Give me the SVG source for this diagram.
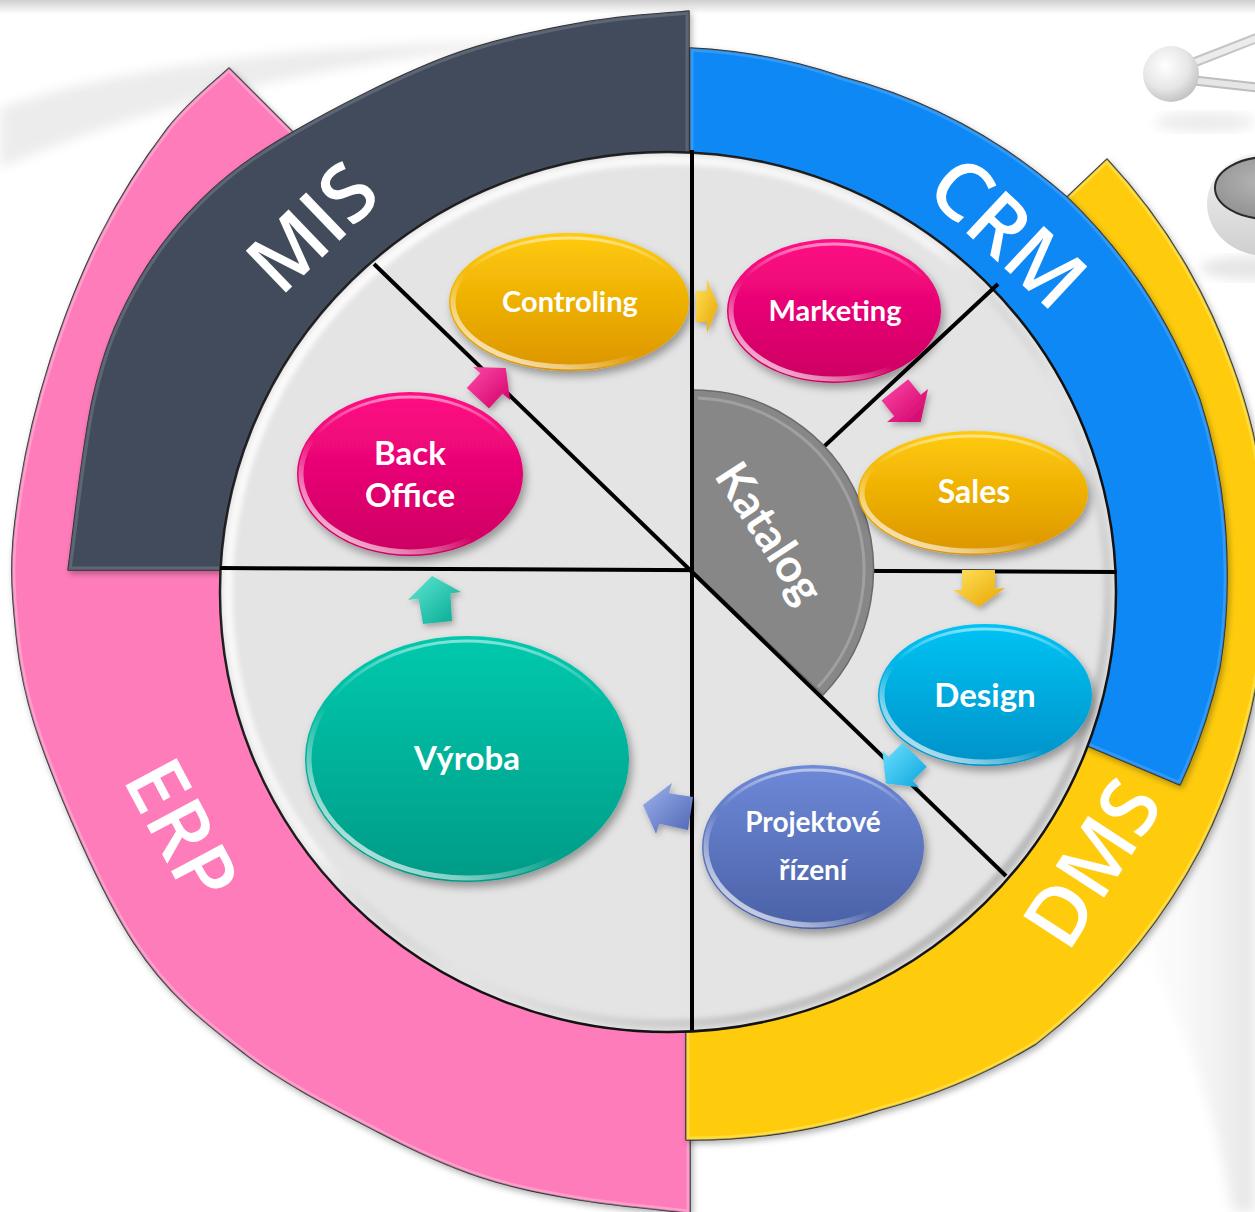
<svg xmlns="http://www.w3.org/2000/svg" width="1255" height="1212" viewBox="0 0 1255 1212">
<defs>
<style>
.band{stroke:#2e2e2e;stroke-width:1.5;stroke-linejoin:round}
.bevel{fill:none;stroke-width:7;stroke-opacity:0.45}
.div{stroke:#000;stroke-width:4;fill:none}
.big{font-family:"Open Sans","DejaVu Sans",sans-serif;font-weight:600;font-size:81px;fill:#fff;text-anchor:middle}
.lbl{font-family:Lato,"Liberation Sans",sans-serif;font-weight:700;fill:#fff;text-anchor:middle}
.rim{fill:none;stroke:url(#gRim);stroke-width:5}
.top{fill:none;stroke:url(#gTop);stroke-width:3}
.arr{stroke:none}
</style>
<path id="pErp" d="M229,68 C218.7,78.2 188.5,101 167,129 C145.5,157 119.5,197.3 100,236 C80.5,274.7 63.3,319.3 50,361 C36.7,402.7 26.2,446.2 20,486 C13.8,525.8 9.7,557.5 13,600 C16.3,642.5 19.8,683.8 40,741 C60.2,798.2 99.8,890.8 134,943 C168.2,995.2 204,1022.3 245,1054 C286,1085.7 340.8,1112.5 380,1133 C419.2,1153.5 446.7,1165.8 480,1177 C513.3,1188.2 545,1194 580,1200 C615,1206 671.7,1210.8 690,1213 L690,570 L293,132 Z"/>
<path id="pDms" d="M1107,159 A600,600 0 0,1 1187,267 A600,600 0 0,1 1233,367 A600,600 0 0,1 1253,433 A600,600 0 0,1 1266,600 A600,600 0 0,1 1245,733 A600,600 0 0,1 1200,850 A600,600 0 0,1 1036,1044 A600,600 0 0,1 880,1110 A600,600 0 0,1 686,1140 L686,570 L1067,197 Z"/>
<path id="pMis" d="M68,570 C72.2,541.2 82.2,443.7 93,397 C103.8,350.3 115.2,322.7 133,290 C150.8,257.3 173.3,227.3 200,201 C226.7,174.7 252,156 293,132 C334,108 398.2,75.2 446,57 C493.8,38.8 539.5,30.7 580,23 C620.5,15.3 670.8,13 689,11 L689,570 Z"/>
<path id="pCrm" d="M690,48 A555,555 0 0,1 843,77 A555,555 0 0,1 1067,197 A555,555 0 0,1 1140,283 A555,555 0 0,1 1200,400 A555,555 0 0,1 1227,567 A555,555 0 0,1 1220,667 A555,555 0 0,1 1180,785 L1090,747 L690,570 Z"/>
<clipPath id="cErp"><use href="#pErp"/></clipPath>
<clipPath id="cDms"><use href="#pDms"/></clipPath>
<clipPath id="cMis"><use href="#pMis"/></clipPath>
<clipPath id="cCrm"><use href="#pCrm"/></clipPath>
<linearGradient id="gTopShade" x1="0" y1="0" x2="0" y2="1"><stop offset="0" stop-color="#cfcfcf"/><stop offset="1" stop-color="#fff"/></linearGradient>
<linearGradient id="gGold" x1="0" y1="0" x2="0" y2="1"><stop offset="0" stop-color="#ffcb0a"/><stop offset="1" stop-color="#dc9500"/></linearGradient>
<linearGradient id="gMag" x1="0" y1="0" x2="0" y2="1"><stop offset="0" stop-color="#ff0a84"/><stop offset="1" stop-color="#cc0062"/></linearGradient>
<linearGradient id="gCyan" x1="0" y1="0" x2="0" y2="1"><stop offset="0" stop-color="#05c3f4"/><stop offset="1" stop-color="#0092c8"/></linearGradient>
<linearGradient id="gBlue" x1="0" y1="0" x2="0" y2="1"><stop offset="0" stop-color="#6e89d8"/><stop offset="1" stop-color="#4a61a6"/></linearGradient>
<linearGradient id="gTeal" x1="0" y1="0" x2="0" y2="1"><stop offset="0" stop-color="#00c9ad"/><stop offset="1" stop-color="#009b87"/></linearGradient>
<linearGradient id="gRim" x1="0" y1="1" x2="0.7" y2="0.2"><stop offset="0" stop-color="#fff" stop-opacity="0.95"/><stop offset="0.3" stop-color="#fff" stop-opacity="0.5"/><stop offset="0.55" stop-color="#fff" stop-opacity="0"/></linearGradient>
<linearGradient id="gTop" x1="0" y1="0" x2="0" y2="1"><stop offset="0" stop-color="#fff" stop-opacity="0.5"/><stop offset="0.25" stop-color="#fff" stop-opacity="0"/></linearGradient>
<linearGradient id="gDiskRim" x1="0" y1="0" x2="1" y2="1"><stop offset="0" stop-color="#fff" stop-opacity="1"/><stop offset="0.45" stop-color="#fff" stop-opacity="0.6"/><stop offset="0.6" stop-color="#888" stop-opacity="0"/><stop offset="1" stop-color="#666" stop-opacity="0.6"/></linearGradient>
<linearGradient id="aGold" x1="0" y1="0" x2="1" y2="1"><stop offset="0" stop-color="#ffe25a"/><stop offset="1" stop-color="#e8a400"/></linearGradient>
<linearGradient id="aMag" x1="0" y1="0" x2="1" y2="1"><stop offset="0" stop-color="#ff4aa8"/><stop offset="1" stop-color="#d0006a"/></linearGradient>
<linearGradient id="aCyan" x1="0" y1="0" x2="1" y2="1"><stop offset="0" stop-color="#6fe0ff"/><stop offset="1" stop-color="#0aa6dc"/></linearGradient>
<linearGradient id="aBlue" x1="0" y1="0" x2="1" y2="1"><stop offset="0" stop-color="#9fb3ee"/><stop offset="1" stop-color="#4d66b4"/></linearGradient>
<linearGradient id="aTeal" x1="0" y1="0" x2="1" y2="1"><stop offset="0" stop-color="#5ee8d4"/><stop offset="1" stop-color="#05a892"/></linearGradient>
<radialGradient id="gSphere" cx="0.4" cy="0.35" r="0.7"><stop offset="0" stop-color="#fff"/><stop offset="0.6" stop-color="#e6e6e6"/><stop offset="1" stop-color="#bdbdbd"/></radialGradient>
<radialGradient id="gFace" cx="0.45" cy="0.4" r="0.7"><stop offset="0" stop-color="#b5b5b5"/><stop offset="1" stop-color="#8a8a8a"/></radialGradient>
<linearGradient id="gBody" x1="0" y1="0" x2="0" y2="1"><stop offset="0" stop-color="#f4f4f4"/><stop offset="1" stop-color="#cfcfcf"/></linearGradient>
<linearGradient id="gSwoosh" x1="0" y1="0" x2="1" y2="0"><stop offset="0" stop-color="#fff" stop-opacity="0"/><stop offset="1" stop-color="#e6e6e6"/></linearGradient>
<filter id="sh" x="-20%" y="-20%" width="145%" height="155%"><feDropShadow dx="3" dy="5" stdDeviation="4" flood-color="#000" flood-opacity="0.35"/></filter>
<filter id="bsh" x="-10%" y="-10%" width="120%" height="120%"><feDropShadow dx="2" dy="3" stdDeviation="3" flood-color="#000" flood-opacity="0.3"/></filter>
<filter id="blur6"><feGaussianBlur stdDeviation="6"/></filter>
<filter id="blur2"><feGaussianBlur stdDeviation="2.5"/></filter>
</defs>

<g id="background">
<rect width="1255" height="1212" fill="#fff"/>
<rect width="1255" height="14" fill="url(#gTopShade)"/>
<path d="M0,108 C120,66 320,40 560,42 C340,58 160,100 0,168 Z" fill="#ececec" filter="url(#blur6)"/>
<path d="M1110,900 C1170,980 1210,1080 1232,1212 L1255,1212 L1255,680 Z" fill="url(#gSwoosh)" filter="url(#blur6)"/>
<ellipse cx="1205" cy="122" rx="50" ry="10" fill="#ececec" filter="url(#blur6)"/>
<line x1="1185" y1="66" x2="1262" y2="36" stroke="#c4c4c4" stroke-width="10"/>
<line x1="1185" y1="66" x2="1262" y2="36" stroke="#ececec" stroke-width="6"/>
<line x1="1190" y1="80" x2="1262" y2="88" stroke="#bdbdbd" stroke-width="10"/>
<line x1="1190" y1="80" x2="1262" y2="88" stroke="#e6e6e6" stroke-width="6"/>
<circle cx="1171" cy="74" r="28" fill="url(#gSphere)"/>
<ellipse cx="1255" cy="268" rx="55" ry="12" fill="#e6e6e6" filter="url(#blur6)"/>
<ellipse cx="1266" cy="204" rx="59" ry="52" fill="url(#gBody)"/>
<ellipse cx="1268" cy="188" rx="53" ry="31" fill="url(#gFace)" stroke="#2a2a2a" stroke-width="2"/>
</g>

<g id="erp">
<use href="#pErp" class="band" fill="#ff7cbb" filter="url(#bsh)"/>
<use href="#pErp" class="bevel" stroke="#ffc4e2" clip-path="url(#cErp)"/>
</g>
<g id="dms">
<use href="#pDms" class="band" fill="#ffcc08" filter="url(#bsh)"/>
<use href="#pDms" class="bevel" stroke="#fff07a" clip-path="url(#cDms)"/>
</g>
<g id="mis">
<use href="#pMis" class="band" fill="#434c5c" filter="url(#bsh)"/>
<use href="#pMis" class="bevel" stroke="#7d8798" clip-path="url(#cMis)"/>
</g>
<g id="crm">
<use href="#pCrm" class="band" fill="#0a88f5" filter="url(#bsh)"/>
<use href="#pCrm" class="bevel" stroke="#5cb2ff" clip-path="url(#cCrm)"/>
</g>

<g id="disk">
<ellipse cx="668" cy="592" rx="448" ry="440" fill="#e4e4e4" stroke="#111" stroke-width="2.5"/>
<ellipse cx="668" cy="592" rx="440" ry="432" fill="none" stroke="url(#gDiskRim)" stroke-width="9" filter="url(#blur2)"/>
</g>

<g id="dividers-back">
<line class="div" x1="220" y1="568" x2="1117" y2="572"/>
<line class="div" x1="692" y1="570" x2="998" y2="284"/>
</g>

<g id="katalog">
<path d="M692,570 L692,390 A180,180 0 0,1 823,695 Z" fill="#878787" stroke="#6a6a6a" stroke-width="1.5"/>
<path d="M698,398 A172,172 0 0,1 818,687" fill="none" stroke="#a0a0a0" stroke-width="3"/>
<text class="lbl" font-size="46" transform="translate(768,534) rotate(57)" x="0" y="14">Katalog</text>
</g>

<g id="dividers-front">
<line class="div" x1="692" y1="150" x2="692" y2="1030"/>
<line class="div" x1="374" y1="264" x2="1006" y2="876"/>
</g>

<g id="mis-label"><text class="big" transform="translate(312,227) rotate(-44)" x="0" y="29">MIS</text></g>
<g id="crm-label"><text class="big" transform="translate(1008,232) rotate(43)" x="0" y="29">CRM</text></g>
<g id="erp-label"><text class="big" transform="translate(182,830) rotate(62)" x="0" y="29">ERP</text></g>
<g id="dms-label"><text class="big" transform="translate(1092,863) rotate(-57)" x="0" y="29">DMS</text></g>

<g id="controling">
<ellipse cx="569" cy="302" rx="120" ry="69" fill="url(#gGold)" filter="url(#sh)"/>
<ellipse class="rim" cx="569" cy="302" rx="116" ry="65"/>
<ellipse class="top" cx="569" cy="302" rx="115" ry="64"/>
<text class="lbl" font-size="29" x="570" y="312">Controling</text>
</g>
<g id="marketing">
<ellipse cx="834" cy="311" rx="107" ry="72" fill="url(#gMag)" filter="url(#sh)"/>
<ellipse class="rim" cx="834" cy="311" rx="103" ry="68"/>
<ellipse class="top" cx="834" cy="311" rx="102" ry="67"/>
<text class="lbl" font-size="29" x="835" y="321">Marketing</text>
</g>
<g id="back-office">
<ellipse cx="410" cy="474" rx="113" ry="82" fill="url(#gMag)" filter="url(#sh)"/>
<ellipse class="rim" cx="410" cy="474" rx="109" ry="78"/>
<ellipse class="top" cx="410" cy="474" rx="108" ry="77"/>
<text class="lbl" font-size="33" x="410" y="465">Back</text>
<text class="lbl" font-size="33" x="410" y="507">Office</text>
</g>
<g id="sales">
<ellipse cx="973" cy="493" rx="115" ry="62" fill="url(#gGold)" filter="url(#sh)"/>
<ellipse class="rim" cx="973" cy="493" rx="111" ry="58"/>
<ellipse class="top" cx="973" cy="493" rx="110" ry="57"/>
<text class="lbl" font-size="32" x="974" y="503">Sales</text>
</g>
<g id="design">
<ellipse cx="985" cy="695" rx="107" ry="71" fill="url(#gCyan)" filter="url(#sh)"/>
<ellipse class="rim" cx="985" cy="695" rx="103" ry="67"/>
<ellipse class="top" cx="985" cy="695" rx="102" ry="66"/>
<text class="lbl" font-size="33" x="985" y="707">Design</text>
</g>
<g id="projektove-rizeni">
<ellipse cx="813" cy="847" rx="111" ry="82" fill="url(#gBlue)" filter="url(#sh)"/>
<ellipse class="rim" cx="813" cy="847" rx="107" ry="78"/>
<ellipse class="top" cx="813" cy="847" rx="106" ry="77"/>
<text class="lbl" font-size="28" x="813" y="832">Projektové</text>
<text class="lbl" font-size="28" x="813" y="880">řízení</text>
</g>
<g id="vyroba">
<ellipse cx="467" cy="759" rx="162" ry="123" fill="url(#gTeal)" filter="url(#sh)"/>
<ellipse class="rim" cx="467" cy="759" rx="158" ry="119"/>
<ellipse class="top" cx="467" cy="759" rx="157" ry="118"/>
<text class="lbl" font-size="33" x="467" y="770">Výroba</text>
</g>

<g id="connectors" filter="url(#bsh)">
<polygon class="arr" fill="url(#aGold)" points="696,291 707,291 707,279 718,306 707,333 707,322 696,322"/>
<polygon class="arr" fill="url(#aMag)" points="881.6,400.6 908.2,379.2 920.8,394.8 928,389 920.7,421.9 887,422 894.2,416.2"/>
<polygon class="arr" fill="url(#aGold)" points="962,570 995,570 995,589 1005,588 979,607 953,590 962,590"/>
<polygon class="arr" fill="url(#aCyan)" points="926.8,766.7 902.8,742.7 888.7,756.8 882.3,750.4 885.9,783.6 919.1,787.2 912.7,780.8"/>
<polygon class="arr" fill="url(#aBlue)" points="693,797 668.8,793.2 672,783 643,805 656,834 659.2,823.8 688,830"/>
<polygon class="arr" fill="url(#aTeal)" points="418.6,598.4 408,600 432,576 461,592 450.4,593.6 452,621 423,624"/>
<polygon class="arr" fill="url(#aMag)" points="466.8,388.1 480.4,373.3 473,367 505.8,368 510,400 502.6,393.7 489,408.5"/>
</g>
</svg>
